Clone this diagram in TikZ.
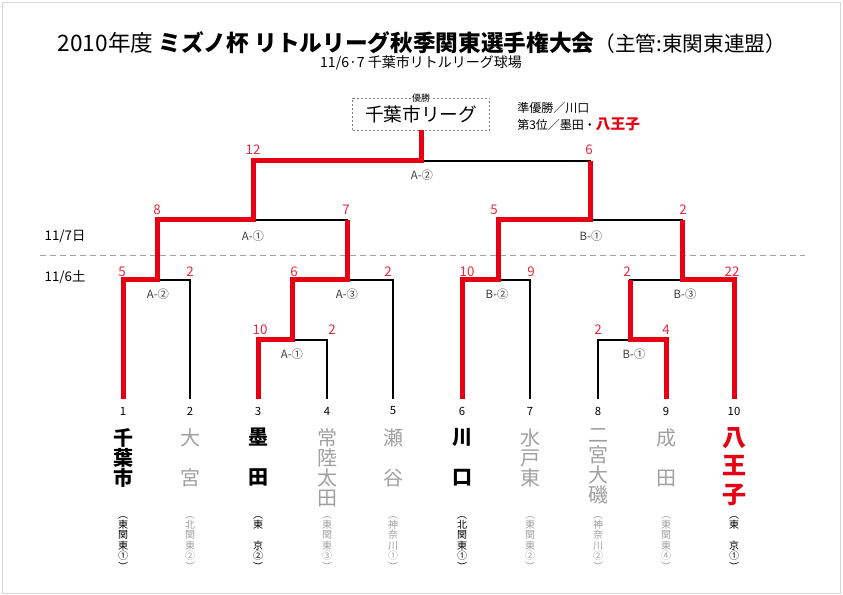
\documentclass[tikz,border=0pt]{standalone}
\usepackage{fontspec}
\setmainfont{Noto Sans CJK JP}
\usepackage{xcolor}
\definecolor{winred}{RGB}{230,0,18}
\definecolor{scorered}{RGB}{232,40,60}
\definecolor{losegray}{RGB}{160,160,160}
\definecolor{labgray}{RGB}{60,60,60}
\definecolor{edgegray}{RGB}{215,215,215}

\begin{document}
\begin{tikzpicture}[x=0.75pt,y=0.75pt,yscale=-1,xscale=1,
  win/.style={draw=winred,line width=3.75pt},
  lose/.style={draw=black,line width=1.4pt},
  score/.style={text=scorered,inner sep=0pt,font=\fontsize{10}{10}\selectfont},
  match/.style={text=labgray,inner sep=0pt,font=\fontsize{8.5}{8.5}\selectfont},
  num/.style={inner sep=0pt,font=\fontsize{8.5}{8.5}\selectfont},
  date/.style={inner sep=0pt,font=\fontsize{10}{10}\selectfont},
  team/.style={align=center,anchor=north,inner sep=0pt,font=\fontsize{15}{15}\selectfont},
  teamwin/.style={team,text=black,font=\fontsize{15}{15}\selectfont\bfseries},
  teamlose/.style={team,text=losegray},
  aff/.style={align=center,anchor=north,inner sep=0pt,font=\fontsize{7.5}{7.8}\selectfont},
]
\path[use as bounding box] (0,0) rectangle (843,595);
%Shape: Rectangle (frame)
\draw[color=edgegray] (2,2) rectangle (840,593);

% Text Node (title)
\node[font=\fontsize{17}{17}\selectfont] (title) at (422,43) {2010年度 {\bfseries ミズノ杯 リトルリーグ秋季関東選手権大会}{\fontsize{15.5}{15.5}\selectfont （主管:東関東連盟）}};
% Text Node
\node[font=\fontsize{10.5}{10.5}\selectfont] (venue) at (421,63) {11/6·7 千葉市リトルリーグ球場};

% champion box
\node[draw=gray,dash pattern=on 1.5pt off 1.5pt,line width=0.6pt,minimum width=102.75pt,minimum height=24pt,inner sep=0pt,font=\fontsize{14}{14}\selectfont] (champ) at (421,114) {千葉市リーグ};
\node[fill=white,inner sep=1pt,font=\fontsize{6.75}{6.75}\selectfont] (yusho) at (champ.north) {優勝};
% Text Node
\node[anchor=west,inner sep=0pt,font=\fontsize{9}{9}\selectfont] (runner) at (517,108) {準優勝／川口};
% Text Node
\node[anchor=west,inner sep=0pt,font=\fontsize{9}{9}\selectfont] (third) at (517,124) {第3位／墨田・{\color{winred}\fontsize{11}{11}\selectfont\bfseries 八王子}};

% dates
\draw[color=losegray,line width=0.75pt,dash pattern=on 4.5pt off 3pt] (40,256) -- (805,256);
\node[date] (d7) at (65,236) {11/7日};
\node[date] (d6) at (65,277) {11/6土};

% leaves and joints
\coordinate (p1) at (123,399);
\coordinate (p2) at (190,399);
\coordinate (p3) at (258,399);
\coordinate (p4) at (327,399);
\coordinate (p5) at (393,399);
\coordinate (p6) at (462,399);
\coordinate (p7) at (530,399);
\coordinate (p8) at (598,399);
\coordinate (p9) at (666,399);
\coordinate (p10) at (734,399);
\coordinate (jA1) at (292,340);
\coordinate (jB1) at (630,340);
\coordinate (jA2) at (157,280);
\coordinate (jA3) at (347,280);
\coordinate (jB2) at (498,280);
\coordinate (jB3) at (682,280);
\coordinate (jSA) at (253,220);
\coordinate (jSB) at (590,220);
\coordinate (jF) at (421,161);

%Straight Lines (all games)
\foreach \a/\b in {p1/jA2,p2/jA2,p3/jA1,p4/jA1,jA1/jA3,p5/jA3,p6/jB2,p7/jB2,p8/jB1,p9/jB1,jB1/jB3,p10/jB3,jA2/jSA,jA3/jSA,jB2/jSB,jB3/jSB,jSA/jF,jSB/jF}
  \draw[lose] (\a) |- (\b);

%Straight Lines (winners)
\draw[win] (p1) |- (jA2) |- (jSA) |- (jF) -- (champ.south);
\draw[win] (p3) |- (jA1) |- (jA3) -- (jA3 |- jSA);
\draw[win] (p6) |- (jB2) |- (jSB) -- (jSB |- jF);
\draw[win] (p9) |- (jB1) -- (jB1 |- jB3);
\draw[win] (p10) |- (jB3) -- (jB3 |- jSB);

% scores
\node[score] (sc1) at (122,272) {5};
\node[score] (sc2) at (190,272) {2};
\node[score] (sc3) at (260,330) {10};
\node[score] (sc4) at (332,330) {2};
\node[score] (sc5) at (294,272) {6};
\node[score] (sc6) at (388,272) {2};
\node[score] (sc7) at (467,272) {10};
\node[score] (sc8) at (531,272) {9};
\node[score] (sc9) at (598,330) {2};
\node[score] (sc10) at (666,330) {4};
\node[score] (sc11) at (627,272) {2};
\node[score] (sc12) at (732,272) {22};
\node[score] (sc13) at (157,210) {8};
\node[score] (sc14) at (346,210) {7};
\node[score] (sc15) at (494,210) {5};
\node[score] (sc16) at (683,210) {2};
\node[score] (sc17) at (253,150) {12};
\node[score] (sc18) at (589,150) {6};

% game labels
\node[match] (gA2) at (158,294) {A-②};
\node[match] (gA1) at (292,354) {A-①};
\node[match] (gA3) at (347,294) {A-③};
\node[match] (gB2) at (497,294) {B-②};
\node[match] (gB1) at (634,354) {B-①};
\node[match] (gB3) at (685,294) {B-③};
\node[match] (gSA) at (253,236) {A-①};
\node[match] (gSB) at (591,236) {B-①};
\node[match] (gF) at (422,175) {A-②};

% numbers
\foreach \i/\x in {1/123,2/190,3/258,4/327,5/393,6/462,7/530,8/598,9/666,10/734}
  \node[num] (n\i) at (\x,411) {\i};

% teams
\node[teamwin] (t1) at (123,428) {千\\葉\\市};
\node[teamlose] (t2) at (190,428) {大\\\mbox{}\\宮};
\node[teamwin] (t3) at (258,428) {墨\\\mbox{}\\田};
\node[teamlose] (t4) at (327,428) {常\\陸\\太\\田};
\node[teamlose] (t5) at (393,428) {瀬\\\mbox{}\\谷};
\node[teamwin] (t6) at (462,428) {川\\\mbox{}\\口};
\node[teamlose] (t7) at (530,428) {水\\戸\\東};
\node[teamlose] (t8) at (598,428) {二\\宮\\大\\磯};
\node[teamlose] (t9) at (666,428) {成\\\mbox{}\\田};
\node[team,text=winred,font=\fontsize{18}{21.5}\selectfont\bfseries] (t10) at (734,427) {八\\王\\子};

% leagues
\node[aff,text=black] (a1) at (123,516) {︵\\東\\関\\東\\①\\︶};
\node[aff,text=losegray] (a2) at (190,516) {︵\\北\\関\\東\\②\\︶};
\node[aff,text=black] (a3) at (258,516) {︵\\東\\\mbox{}\\京\\②\\︶};
\node[aff,text=losegray] (a4) at (327,516) {︵\\東\\関\\東\\③\\︶};
\node[aff,text=losegray] (a5) at (393,516) {︵\\神\\奈\\川\\①\\︶};
\node[aff,text=black] (a6) at (462,516) {︵\\北\\関\\東\\①\\︶};
\node[aff,text=losegray] (a7) at (530,516) {︵\\東\\関\\東\\②\\︶};
\node[aff,text=losegray] (a8) at (598,516) {︵\\神\\奈\\川\\②\\︶};
\node[aff,text=losegray] (a9) at (666,516) {︵\\東\\関\\東\\④\\︶};
\node[aff,text=black] (a10) at (734,516) {︵\\東\\\mbox{}\\京\\①\\︶};
\end{tikzpicture}
\end{document}
